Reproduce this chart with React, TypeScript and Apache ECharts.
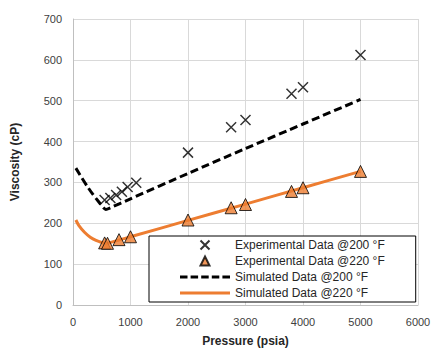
import React, { useEffect, useRef } from "react";
import * as echarts from "echarts";

const exp200X = [550, 650, 750, 850, 950, 1100, 2000, 2750, 3000, 3800, 4000, 5000];
const exp200Y = [257, 262, 269, 277, 289, 299, 373, 435, 453, 517, 533, 612];

const exp220X = [550, 600, 800, 1000, 2000, 2750, 3000, 3800, 4000, 5000];
const exp220Y = [152, 151, 160, 167, 208, 238, 246, 278, 287, 327];

const sim200X = [50, 150, 250, 350, 450, 530, 570, 650, 1000, 2000, 3000, 4000, 5000];
const sim200Y = [335, 312, 290, 270, 252, 238, 234, 238, 260, 322, 383, 443, 503];

const sim220X = [50, 100, 200, 300, 400, 500, 580, 700, 1000, 2000, 3000, 4000, 5000];
const sim220Y = [208, 195, 178, 166, 158, 153, 151, 155, 167, 207, 247, 287, 327];

const names = [
  "Experimental Data @200 °F",
  "Experimental Data @220 °F",
  "Simulated Data @200 °F",
  "Simulated Data @220 °F",
];

const zip = (xs: number[], ys: number[]) => xs.map((x, i) => [x, ys[i]]);

const CROSS = "path://M0,0L10,10M10,0L0,10";
const TRI = "path://M5,0L10,10L0,10Z";
const DASH_ICON =
  "path://M0,0h7.5v3h-7.5zM10.6,0h7.5v3h-7.5zM21.2,0h7.5v3h-7.5zM31.8,0h7.5v3h-7.5zM42.4,0h7.6v3h-7.6z";
const LINE_ICON = "path://M0,0h50v3h-50z";

export default function App() {
  const ref = useRef<HTMLDivElement>(null);
  useEffect(() => {
    document.body.style.margin = "0";
    if (!ref.current) return;
    const chart = echarts.init(ref.current, null, { renderer: "svg" });
    const font = "Liberation Sans, Arial, sans-serif";
    const fmt = (v: number) => String(v);
    chart.setOption({
      animation: false,
      backgroundColor: "#ffffff",
      grid: { left: 73, right: 18, top: 19, bottom: 50 },
      xAxis: {
        type: "value",
        min: 0,
        max: 6000,
        interval: 1000,
        name: "Pressure (psia)",
        nameLocation: "middle",
        nameGap: 30,
        nameTextStyle: { fontFamily: font, fontSize: 12, fontWeight: "bold", color: "#262626" },
        axisLine: { show: true, lineStyle: { color: "#bfbfbf", width: 1 } },
        axisTick: { show: false },
        axisLabel: { fontFamily: font, fontSize: 11, color: "#404040", margin: 11, formatter: fmt },
        splitLine: { show: true, lineStyle: { color: "#d9d9d9", width: 1 } },
      },
      yAxis: {
        type: "value",
        min: 0,
        max: 700,
        interval: 100,
        name: "Viscosity (cP)",
        nameLocation: "middle",
        nameGap: 52,
        nameTextStyle: { fontFamily: font, fontSize: 12, fontWeight: "bold", color: "#262626" },
        axisLine: { show: true, lineStyle: { color: "#bfbfbf", width: 1 } },
        axisTick: { show: false },
        axisLabel: { fontFamily: font, fontSize: 11, color: "#404040", margin: 11, formatter: fmt },
        splitLine: { show: true, lineStyle: { color: "#d9d9d9", width: 1 } },
      },
      legend: {
        orient: "vertical",
        left: 149,
        top: 236,
        data: [
          { name: names[0] },
          { name: names[1] },
          { name: names[2], icon: DASH_ICON, itemStyle: { color: "#000" } },
          { name: names[3], icon: LINE_ICON, itemStyle: { color: "#ED7D31" } },
        ],
        itemWidth: 50,
        itemHeight: 9,
        itemGap: 2,
        padding: [2, 31, 2, 31],
        borderColor: "#000",
        borderWidth: 1,
        backgroundColor: "#fff",
        textStyle: { fontFamily: font, fontSize: 12, color: "#262626", lineHeight: 14 },
      },
      series: [
        {
          name: names[2],
          type: "line",
          data: zip(sim200X, sim200Y),
          showSymbol: false,
          symbol: "none",
          smooth: 0.25,
          lineStyle: { color: "#000", width: 3, type: [8, 4] },
          itemStyle: { color: "#000" },
          z: 2,
        },
        {
          name: names[3],
          type: "line",
          data: zip(sim220X, sim220Y),
          showSymbol: false,
          symbol: "none",
          smooth: 0.3,
          lineStyle: { color: "#ED7D31", width: 3 },
          itemStyle: { color: "#ED7D31" },
          z: 2,
        },
        {
          name: names[0],
          type: "scatter",
          data: zip(exp200X, exp200Y),
          symbol: CROSS,
          symbolSize: 10,
          itemStyle: { color: "none", borderColor: "#000", borderWidth: 1.5 },
          z: 3,
        },
        {
          name: names[1],
          type: "scatter",
          data: zip(exp220X, exp220Y),
          symbol: TRI,
          symbolSize: 12,
          itemStyle: { color: "#ED7D31", borderColor: "#000", borderWidth: 1 },
          z: 3,
        },
      ],
    });
    return () => chart.dispose();
  }, []);
  return <div ref={ref} style={{ width: 436, height: 355 }} />;
}
